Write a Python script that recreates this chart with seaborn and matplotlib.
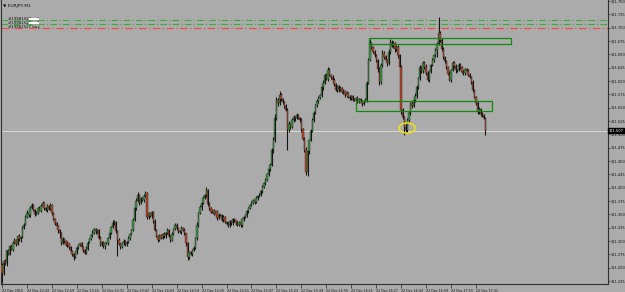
#Импортируем библиотеки
import numpy as np
import pandas as pd
import matplotlib
matplotlib.use('Agg')
import matplotlib.pyplot as plt
from matplotlib.patches import Rectangle, Ellipse
import seaborn as sns

#Данные графика EURJPY M1 (цены закрытия свечей)
closes = [
    111.240, 111.262, 111.258, 111.283, 111.276, 111.290, 111.284, 111.297, 111.302, 111.295,
    111.310, 111.303, 111.308, 111.325, 111.331, 111.345, 111.353, 111.349, 111.362, 111.368,
    111.359, 111.351, 111.353, 111.362, 111.357, 111.366, 111.371, 111.362, 111.358, 111.366,
    111.361, 111.368, 111.352, 111.341, 111.334, 111.329, 111.320, 111.315, 111.296, 111.303,
    111.300, 111.292, 111.296, 111.288, 111.281, 111.276, 111.270, 111.279, 111.287, 111.293,
    111.296, 111.289, 111.283, 111.278, 111.286, 111.297, 111.304, 111.311, 111.315, 111.322,
    111.318, 111.321, 111.305, 111.293, 111.298, 111.290, 111.297, 111.296, 111.305, 111.316,
    111.327, 111.334, 111.336, 111.318, 111.302, 111.295, 111.289, 111.296, 111.301, 111.294,
    111.298, 111.306, 111.314, 111.321, 111.340, 111.362, 111.375, 111.386, 111.372, 111.380,
    111.377, 111.385, 111.390, 111.345, 111.352, 111.347, 111.354, 111.338, 111.321, 111.310,
    111.302, 111.311, 111.306, 111.314, 111.309, 111.315, 111.320, 111.310, 111.302, 111.314,
    111.322, 111.330, 111.324, 111.319, 111.317, 111.325, 111.321, 111.315, 111.296, 111.270,
    111.279, 111.276, 111.284, 111.287, 111.305, 111.331, 111.353, 111.364, 111.372, 111.380,
    111.386, 111.396, 111.370, 111.362, 111.355, 111.358, 111.350, 111.356, 111.344, 111.349,
    111.349, 111.340, 111.345, 111.336, 111.332, 111.330, 111.338, 111.333, 111.341, 111.339,
    111.334, 111.331, 111.336, 111.330, 111.341, 111.345, 111.349, 111.356, 111.362, 111.368,
    111.372, 111.377, 111.373, 111.381, 111.385, 111.386, 111.394, 111.402, 111.409, 111.414,
    111.425, 111.436, 111.443, 111.470, 111.490, 111.530, 111.565, 111.558, 111.574, 111.566,
    111.560, 111.553, 111.546, 111.508, 111.520, 111.514, 111.527, 111.533, 111.530, 111.536,
    111.531, 111.527, 111.510, 111.492, 111.471, 111.430, 111.468, 111.490, 111.506, 111.527,
    111.541, 111.555, 111.562, 111.569, 111.574, 111.588, 111.597, 111.611, 111.604, 111.621,
    111.612, 111.607, 111.602, 111.594, 111.583, 111.590, 111.584, 111.587, 111.579, 111.582,
    111.574, 111.578, 111.571, 111.568, 111.572, 111.565, 111.565, 111.569, 111.562, 111.566,
    111.561, 111.557, 111.563, 111.565, 111.596, 111.640, 111.671, 111.663, 111.655, 111.648,
    111.640, 111.622, 111.598, 111.630, 111.653, 111.645, 111.639, 111.634, 111.655, 111.673,
    111.666, 111.671, 111.660, 111.664, 111.648, 111.626, 111.546, 111.533, 111.514, 111.509,
    111.527, 111.540, 111.559, 111.553, 111.565, 111.572, 111.589, 111.605, 111.626, 111.618,
    111.634, 111.627, 111.615, 111.602, 111.618, 111.630, 111.640, 111.648, 111.658, 111.670,
    111.690, 111.677, 111.660, 111.645, 111.637, 111.626, 111.614, 111.602, 111.620, 111.634,
    111.628, 111.620, 111.621, 111.630, 111.626, 111.617, 111.615, 111.622, 111.619, 111.612,
    111.608, 111.598, 111.583, 111.570, 111.559, 111.542, 111.548, 111.539, 111.536, 111.530,
    111.507,
]
first_open = 111.255

#Верхние и нижние тени (в единицах 0.001)
up_wick = [
    3, 2, 4, 1, 3, 2, 2, 3, 4, 1,  2, 3, 1, 4, 2, 3, 5, 2, 3, 4,
    2, 1, 3, 2, 4, 3, 5, 2, 1, 3,  2, 4, 1, 2, 3, 1, 2, 3, 2, 4,
    3, 2, 4, 1, 2, 3, 2, 3, 4, 2,  1, 3, 2, 2, 4, 3, 2, 3, 5, 2,
    3, 1, 2, 4, 2, 3, 1, 2, 3, 4,  2, 5, 3, 1, 2, 3, 2, 2, 3, 1,
    2, 3, 1, 2, 4, 3, 5, 6, 2, 3,  2, 3, 4, 2, 3, 1, 2, 2, 3, 1,
    2, 3, 2, 1, 3, 2, 4, 2, 1, 3,  2, 4, 3, 2, 1, 3, 2, 4, 1, 2,
    3, 2, 2, 4, 3, 5, 2, 3, 2, 4,  3, 6, 2, 3, 1, 2, 3, 1, 2, 3,
    2, 1, 3, 2, 2, 3, 1, 2, 3, 2,  1, 3, 2, 2, 3, 2, 1, 3, 2, 2,
    3, 2, 1, 3, 2, 4, 2, 3, 2, 4,  3, 2, 4, 5, 6, 8, 5, 3, 7, 4,
    3, 2, 4, 3, 5, 2, 4, 3, 2, 4,  3, 2, 3, 2, 4, 5, 3, 2, 4, 3,
    3, 2, 4, 3, 2, 4, 5, 3, 4, 6,  3, 2, 4, 3, 2, 3, 2, 4, 2, 3,
    2, 3, 2, 3, 2, 2, 3, 2, 3, 2,  2, 3, 2, 3, 5, 4, 8, 3, 2, 4,
    3, 2, 5, 4, 6, 3, 4, 3, 5, 6,  4, 5, 3, 4, 3, 2, 4, 3, 2, 5,
    3, 4, 2, 3, 4, 5, 4, 3, 5, 3,  4, 3, 5, 4, 3, 2, 4, 3, 4, 3,
    30, 4, 3, 4, 2, 3, 2, 4, 3, 4, 3, 4, 2, 3, 4, 2, 3, 2, 3, 4,
    3, 2, 4, 3, 2, 3, 4, 2, 3, 2,  2,
]
down_wick = [
    19, 3, 2, 4, 2, 3, 1, 3, 2, 4, 3, 2, 4, 2, 3, 1, 2, 3, 4, 2,
    3, 4, 2, 3, 1, 2, 3, 4, 2, 3,  2, 3, 4, 2, 3, 2, 4, 9, 3, 2,
    4, 2, 3, 2, 3, 4, 5, 2, 3, 2,  3, 2, 4, 3, 2, 3, 1, 2, 3, 2,
    4, 3, 2, 3, 2, 3, 4, 2, 3, 2,  2, 3, 4, 2, 30, 3, 4, 2, 3, 4,
    3, 2, 4, 2, 3, 2, 3, 2, 4, 3,  2, 3, 2, 3, 4, 2, 3, 4, 2, 3,
    4, 2, 3, 2, 4, 3, 2, 3, 4, 2,  3, 2, 3, 4, 2, 3, 2, 3, 5, 6,
    3, 2, 4, 3, 2, 3, 4, 2, 5, 3,  2, 3, 4, 3, 2, 3, 2, 3, 4, 3,
    2, 3, 4, 3, 2, 3, 4, 3, 2, 3,  4, 3, 2, 3, 4, 3, 2, 3, 4, 2,
    3, 2, 3, 2, 4, 3, 2, 3, 2, 3,  2, 3, 4, 3, 5, 4, 3, 4, 2, 3,
    3, 4, 2, 37, 3, 4, 2, 3, 4, 2, 3, 4, 5, 3, 4, 6, 8, 4, 3, 2,
    3, 2, 4, 3, 2, 3, 4, 3, 2, 3,  2, 3, 4, 3, 2, 3, 4, 3, 2, 3,
    4, 3, 2, 3, 4, 3, 2, 3, 4, 3,  2, 3, 2, 3, 4, 2, 3, 2, 3, 2,
    4, 5, 6, 3, 4, 3, 4, 5, 3, 4,  3, 4, 5, 3, 4, 6, 8, 5, 15, 4,
    5, 3, 4, 3, 2, 4, 3, 4, 3, 2,  3, 4, 3, 2, 4, 3, 2, 4, 3, 12,
    3, 4, 3, 4, 3, 4, 3, 2, 3, 2,  3, 4, 3, 2, 3, 2, 3, 4, 3, 2,
    3, 4, 3, 2, 4, 3, 3, 4, 3, 2,  8,
]

#Подписи осей
x_labels = ['22 Dec 2015', '22 Dec 12:43', '22 Dec 12:59', '22 Dec 13:15', '22 Dec 13:31',
            '22 Dec 13:47', '22 Dec 14:03', '22 Dec 14:19', '22 Dec 14:35', '22 Dec 14:51',
            '22 Dec 15:07', '22 Dec 15:23', '22 Dec 15:39', '22 Dec 15:55', '22 Dec 16:11',
            '22 Dec 16:27', '22 Dec 16:43', '22 Dec 16:59', '22 Dec 17:15', '22 Dec 17:31']
bars_per_label = 16
y_ticks = [111.225 + 0.025 * k for k in range(22)]

#Уровни
green_levels = [111.714, 111.707]
red_level = 111.700
current_price = 111.507
upper_zone = (235.4, 326.5, 111.670, 111.681)
lower_zone = (227.1, 314.3, 111.544, 111.563)
circle_center = (259.8, 111.512)

#Собираем таблицу свечей
df = pd.DataFrame({'close': closes})
df['open'] = [first_open] + closes[:-1]
df['high'] = df[['open', 'close']].max(axis=1) + np.array(up_wick) * 0.001
df['low'] = df[['open', 'close']].min(axis=1) - np.array(down_wick) * 0.001
df['bar'] = np.arange(len(df))
df['bull'] = df['close'] >= df['open']

bg = '#ababab'
sns.set_style('white', {'axes.facecolor': bg, 'figure.facecolor': bg})
plt.rcParams['font.family'] = ['DejaVu Sans']

fig = plt.figure(figsize=(6.25, 2.92), dpi=100)
ax = fig.add_axes([1 / 625, 8 / 292, 607 / 625, 284 / 292])

#Тени свечей
ax.vlines(df['bar'], df['low'], df['high'], color='#151515', linewidth=0.8, zorder=2)
#Тела свечей
body = (df['close'] - df['open']).abs().clip(lower=0.0008)
base = df[['open', 'close']].min(axis=1)
colors = np.where(df['bull'], '#3a9440', '#b3452a')
ax.bar(df['bar'], body, bottom=base, width=0.85, color=colors, edgecolor='#202020',
       linewidth=0.25, zorder=3)

#Горизонтальные уровни
for lv in green_levels:
    ax.axhline(lv, color='#3caa3c', linewidth=0.8, linestyle=(0, (6, 2, 1, 2)), zorder=1)
ax.axhline(red_level, color='#e8504a', linewidth=0.9, linestyle=(0, (6, 2, 1, 2)), zorder=1)
ax.axhline(current_price, color='#d8d8d8', linewidth=0.7, zorder=1)

#Зоны
for x0, x1, y0, y1 in [upper_zone, lower_zone]:
    ax.add_patch(Rectangle((x0, y0), x1 - x0, y1 - y0, fill=False,
                           edgecolor='#0f8a0f', linewidth=0.9, zorder=4))
ax.add_patch(Ellipse(circle_center, 10.3, 0.019, fill=False,
                     edgecolor='#f2e800', linewidth=1.0, zorder=5))

ax.set_xlim(-0.64, 388.7)
ax.set_ylim(111.2195, 111.752)

#Ось Y справа
ax.yaxis.tick_right()
ax.set_yticks(y_ticks)
ax.set_yticklabels([f'{v:.3f}' for v in y_ticks], fontsize=2.6, color='#111111')
ax.tick_params(axis='y', direction='out', length=1.2, width=0.5, pad=0.4, right=True, left=False)

#Ось X
ax.set_xticks([k * bars_per_label for k in range(len(x_labels))])
ax.set_xticklabels(x_labels, fontsize=2.3, color='#111111', ha='left')
ax.tick_params(axis='x', direction='out', length=3, width=0.5, pad=0.5, bottom=True)

for side in ['top']:
    ax.spines[side].set_visible(False)
for side in ['left', 'right', 'bottom']:
    ax.spines[side].set_color('#303030')
    ax.spines[side].set_linewidth(0.8)

#Подпись текущей цены
ax.text(1.001, current_price, f'{current_price:.3f}', transform=ax.get_yaxis_transform(),
        fontsize=2.6, color='white', va='center', ha='left',
        bbox=dict(boxstyle='square,pad=0.2', facecolor='black', edgecolor='black'))

#Заголовок и подписи уровней
ax.text(0.004, 0.985, '▼ EURJPY,M1', transform=ax.transAxes, fontsize=3.2,
        color='#111111', va='top', ha='left')
level_names = ['#19981528 sell', '#19981529 sell', '#19981527 buy']
for name, lv in zip(level_names, green_levels + [red_level]):
    ax.text(4, lv + 0.002, name, fontsize=2.8, color='#111111', va='center', ha='left')
for lv in green_levels:
    ax.add_patch(Rectangle((17.5, lv + 0.0005), 6, 0.004, facecolor='white',
                           edgecolor='none', zorder=4))

fig.savefig('out.png', dpi=100, facecolor=bg)
